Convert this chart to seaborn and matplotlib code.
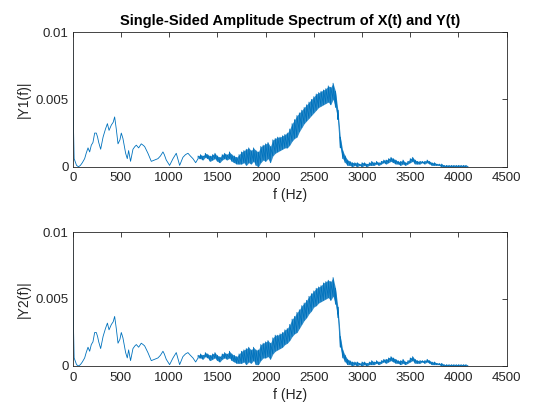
import numpy as np
import seaborn as sns
from matplotlib import pyplot as plt

# low-frequency part (thin trace), identical in both spectra
low_f = [0, 8, 15, 25, 40, 60, 80, 100, 124, 140, 159, 176, 193, 210, 228, 245, 258, 270, 290, 315,
         340, 360, 377, 401, 420, 435, 452, 470, 490, 504, 521, 549, 566, 580, 600, 625, 645, 660, 684, 711,
         730, 746, 780, 815, 849, 884, 910, 936, 950, 970, 1005, 1040, 1074, 1090, 1109, 1143, 1170, 1195, 1220, 1247,
         1275]
low_amp = [0.0095, 0.0030, 0.0006, 0.0004, 0.0001, 0.0000, 0.0001, 0.0003, 0.0006, 0.0010, 0.0014, 0.0011, 0.0016, 0.0018, 0.0025, 0.0025, 0.0022, 0.0018, 0.0013, 0.0022,
           0.0028, 0.0032, 0.0027, 0.0031, 0.0033, 0.0037, 0.0028, 0.0017, 0.0020, 0.0025, 0.0021, 0.0010, 0.0006, 0.0012, 0.0004, 0.0013, 0.0015, 0.0016, 0.0014, 0.0017,
           0.0016, 0.0015, 0.0010, 0.0004, 0.0005, 0.0006, 0.0008, 0.0011, 0.0009, 0.0005, 0.0001, 0.0006, 0.0010, 0.0006, 0.0001, 0.0007, 0.0009, 0.0010, 0.0008, 0.0006,
           0.0003]

# noisy band, 1300..4100 Hz every 25 Hz: lower / upper edge of the trace
band_f = np.arange(1300, 4101, 25)

y1_lo_main = [0.0006, 0.0006, 0.0005, 0.0007, 0.0006, 0.0004, 0.0005, 0.0006, 0.0004, 0.0003,
              0.0005, 0.0006, 0.0005, 0.0006, 0.0004, 0.0003, 0.0002, 0.0002, 0.0002, 0.0003,
              0.0001, 0.0003, 0.0002, 0.0004, 0.0001, 0.0000, 0.0003, 0.0005, 0.0004, 0.0006,
              0.0003, 0.0008, 0.0010, 0.0011, 0.0012, 0.0013, 0.0014, 0.0014, 0.0016, 0.0019,
              0.0021, 0.0022, 0.0026, 0.0029, 0.0032, 0.0034, 0.0036, 0.0038, 0.0040, 0.0042,
              0.0044, 0.0045, 0.0046, 0.0047, 0.0048, 0.0046, 0.0050, 0.0044, 0.0035, 0.0014,
              0.0006, 0.0003, 0.0001]
y1_hi_main = [0.0008, 0.0009, 0.0008, 0.0010, 0.0009, 0.0008, 0.0009, 0.0010, 0.0008, 0.0007,
              0.0009, 0.0010, 0.0009, 0.0011, 0.0009, 0.0008, 0.0007, 0.0009, 0.0011, 0.0012,
              0.0013, 0.0014, 0.0012, 0.0014, 0.0012, 0.0011, 0.0015, 0.0016, 0.0017, 0.0018,
              0.0015, 0.0020, 0.0021, 0.0022, 0.0022, 0.0023, 0.0024, 0.0025, 0.0028, 0.0032,
              0.0035, 0.0038, 0.0040, 0.0042, 0.0044, 0.0046, 0.0048, 0.0050, 0.0052, 0.0054,
              0.0055, 0.0056, 0.0057, 0.0058, 0.0060, 0.0059, 0.0062, 0.0056, 0.0042, 0.0022,
              0.0012, 0.0008, 0.0005]

y2_lo_main = [0.0006, 0.0006, 0.0005, 0.0007, 0.0006, 0.0004, 0.0005, 0.0006, 0.0004, 0.0003,
              0.0005, 0.0006, 0.0005, 0.0006, 0.0004, 0.0003, 0.0002, 0.0002, 0.0002, 0.0003,
              0.0001, 0.0003, 0.0002, 0.0004, 0.0001, 0.0001, 0.0004, 0.0006, 0.0006, 0.0007,
              0.0005, 0.0009, 0.0011, 0.0012, 0.0013, 0.0014, 0.0016, 0.0017, 0.0019, 0.0022,
              0.0024, 0.0025, 0.0028, 0.0031, 0.0034, 0.0036, 0.0039, 0.0041, 0.0044, 0.0045,
              0.0047, 0.0048, 0.0049, 0.0050, 0.0051, 0.0049, 0.0052, 0.0046, 0.0036, 0.0014,
              0.0006, 0.0003, 0.0001]
y2_hi_main = [0.0008, 0.0009, 0.0008, 0.0010, 0.0009, 0.0008, 0.0009, 0.0010, 0.0008, 0.0007,
              0.0009, 0.0010, 0.0009, 0.0011, 0.0009, 0.0008, 0.0007, 0.0009, 0.0011, 0.0012,
              0.0013, 0.0014, 0.0012, 0.0014, 0.0012, 0.0012, 0.0016, 0.0017, 0.0018, 0.0019,
              0.0017, 0.0021, 0.0023, 0.0023, 0.0024, 0.0025, 0.0027, 0.0028, 0.0031, 0.0035,
              0.0037, 0.0040, 0.0042, 0.0045, 0.0047, 0.0049, 0.0052, 0.0054, 0.0056, 0.0058,
              0.0059, 0.0060, 0.0062, 0.0063, 0.0064, 0.0063, 0.0066, 0.0058, 0.0044, 0.0022,
              0.0012, 0.0008, 0.0005]

# tail 2875..4100 Hz, same in both
tail_lo = [0.0001, 0.0000, 0.0001, 0.0000, 0.0001, 0.0000, 0.0001, 0.0000, 0.0001, 0.0001,
           0.0001, 0.0002, 0.0001, 0.0002, 0.0003, 0.0002, 0.0003, 0.0004, 0.0003, 0.0002,
           0.0002, 0.0001, 0.0002, 0.0001, 0.0002, 0.0003, 0.0004, 0.0002, 0.0002, 0.0002,
           0.0003, 0.0002, 0.0003, 0.0002, 0.0001, 0.0001, 0.0001, 0.0001, 0.0000, 0.0000,
           0.0000, 0.0000, 0.0000, 0.0000, 0.0000, 0.0000, 0.0000, 0.0000, 0.0000, 0.0000]
tail_hi = [0.0004, 0.0003, 0.0003, 0.0003, 0.0002, 0.0003, 0.0003, 0.0002, 0.0003, 0.0004,
           0.0003, 0.0004, 0.0003, 0.0004, 0.0005, 0.0005, 0.0006, 0.0007, 0.0006, 0.0005,
           0.0004, 0.0004, 0.0005, 0.0003, 0.0004, 0.0006, 0.0007, 0.0005, 0.0004, 0.0004,
           0.0004, 0.0004, 0.0005, 0.0004, 0.0003, 0.0003, 0.0002, 0.0002, 0.0002, 0.0001,
           0.0001, 0.0001, 0.0001, 0.0001, 0.0001, 0.0001, 0.0001, 0.0001, 0.0001, 0.0000]

x_ticks = [0, 500, 1000, 1500, 2000, 2500, 3000, 3500, 4000, 4500]
y_ticks = [0, 0.005, 0.01]
y_tick_labels = ['0', '0.005', '0.01']

blue = '#0072BD'


def trace(lo_main, hi_main):
    lo = np.concatenate([lo_main, tail_lo])
    hi = np.concatenate([hi_main, tail_hi])
    f = np.concatenate([low_f, np.repeat(band_f, 2)])
    a = np.concatenate([low_amp, np.column_stack([lo, hi]).ravel()])
    return f, a, lo, hi


sns.set_style('white')
plt.rcParams['font.family'] = ['Liberation Sans', 'DejaVu Sans']

fig = plt.figure(figsize=(5.6, 4.2), dpi=100)
ax1 = fig.add_axes([0.1298, 0.603, 0.775, 0.3207])
ax2 = fig.add_axes([0.1298, 0.1286, 0.775, 0.319])

gray = '#262626'
for ax, (lo_m, hi_m), lab in [(ax1, (y1_lo_main, y1_hi_main), '|Y1(f)|'),
                              (ax2, (y2_lo_main, y2_hi_main), '|Y2(f)|')]:
    f, a, lo, hi = trace(lo_m, hi_m)
    ax.fill_between(band_f, lo, hi, color=blue, alpha=0.8, linewidth=0)
    sns.lineplot(x=f, y=a, ax=ax, sort=False, estimator=None, color=blue, linewidth=0.6)
    ax.set_xlim(0, 4500)
    ax.set_ylim(0, 0.01)
    ax.set_xticks(x_ticks)
    ax.set_yticks(y_ticks)
    ax.set_yticklabels(y_tick_labels)
    ax.tick_params(direction='in', top=True, right=True, length=3.5, width=0.6,
                   color=gray, labelcolor=gray, labelsize=9.5, pad=4)
    ax.tick_params(axis='y', pad=3)
    for s in ax.spines.values():
        s.set_color(gray)
        s.set_linewidth(0.6)
    ax.set_xlabel('f (Hz)', fontsize=10, color=gray, labelpad=3)
    ax.set_ylabel(lab, fontsize=10, color=gray, labelpad=3)

ax1.set_title('Single-Sided Amplitude Spectrum of X(t) and Y(t)', fontsize=10.5,
              fontweight='bold', color='black', pad=5)

fig.savefig('out.png', dpi=100)
